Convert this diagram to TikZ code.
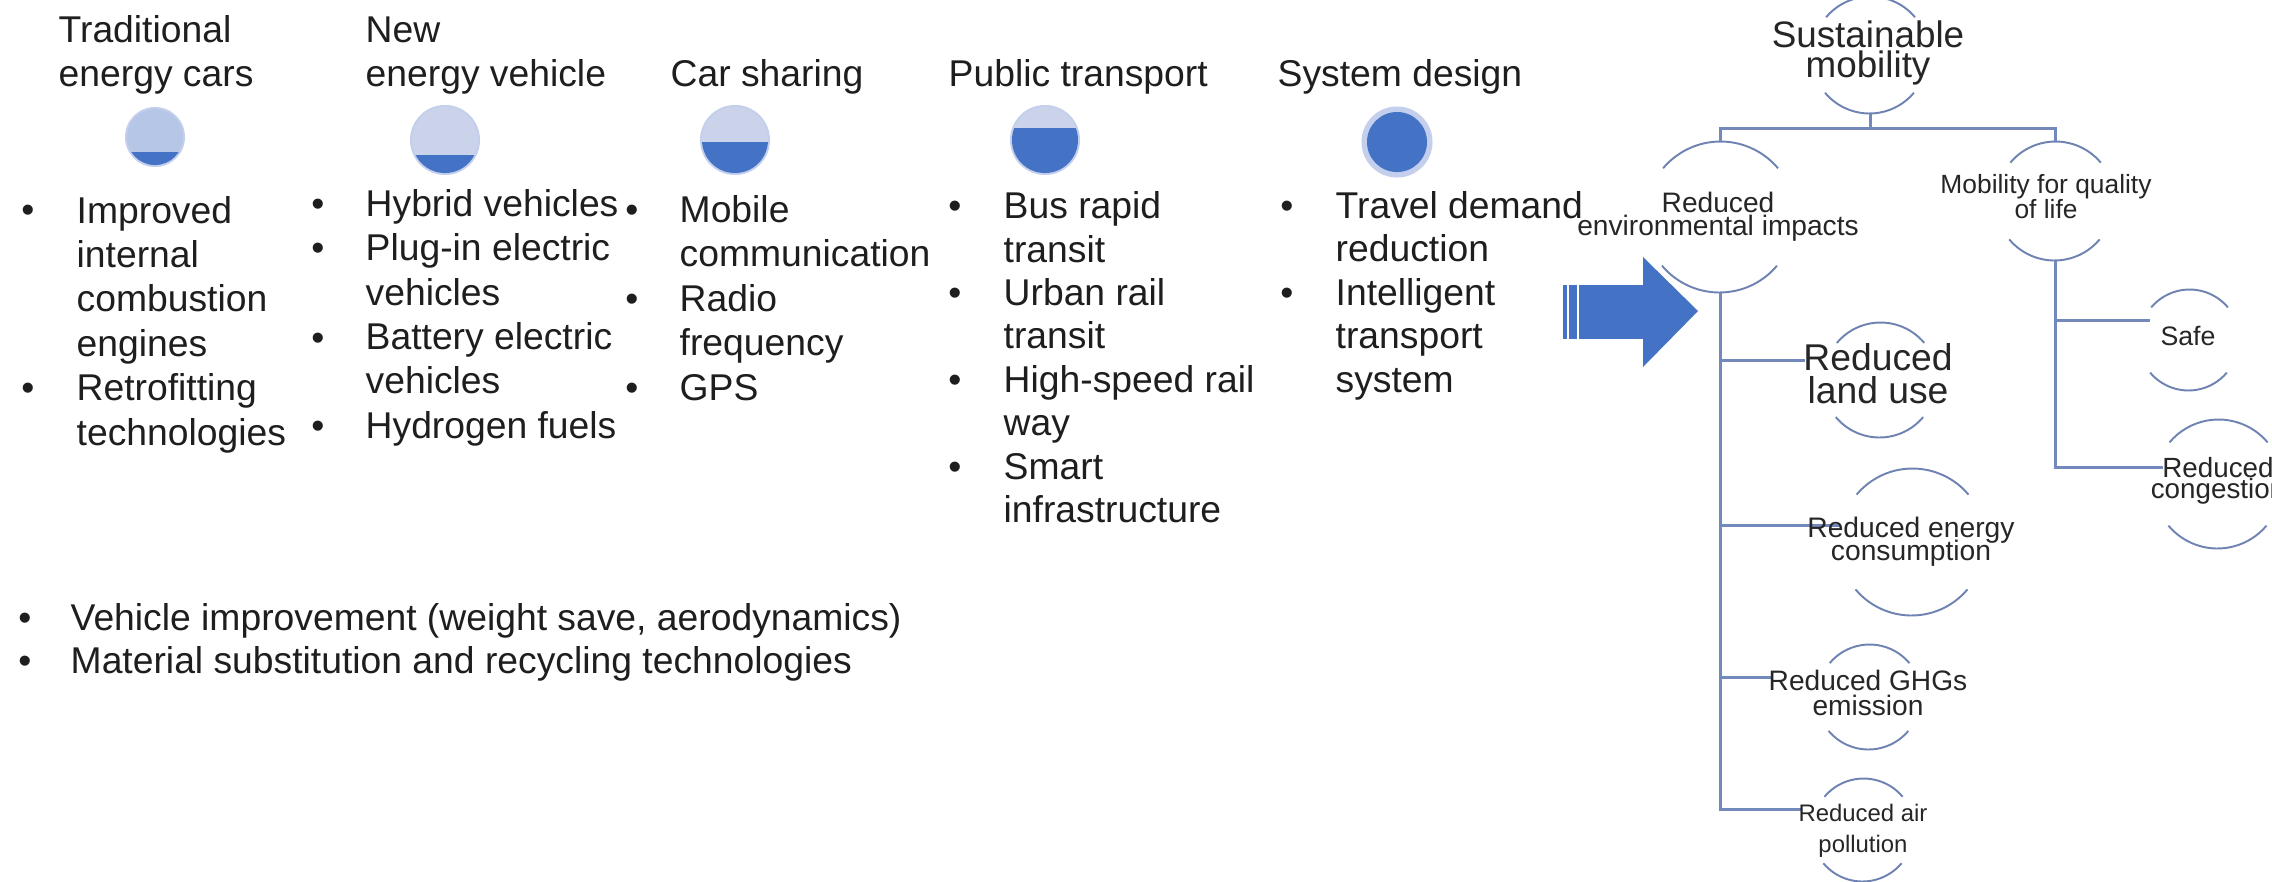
\documentclass[tikz,border=0pt]{standalone}
\usepackage{fontspec}
\setmainfont{Liberation Sans}
\usetikzlibrary{calc}
\setlength{\lineskiplimit}{-50pt}
\definecolor{ink}{HTML}{1E1E1E}
\definecolor{accent}{HTML}{4472C4}
\definecolor{rimc}{HTML}{C3CFEC}
\definecolor{palec}{HTML}{CBD3EA}
\definecolor{pale1}{HTML}{B6C6E7}
\definecolor{linec}{HTML}{7489BB}
\definecolor{arcc}{HTML}{6F83B3}
\newcommand{\drawcaps}[2]{%
  \draw[arcstroke] (#1.40) arc[start angle=40,end angle=140,radius=#2];
  \draw[arcstroke] (#1.220) arc[start angle=220,end angle=320,radius=#2];}
\tikzset{
  txt/.style={inner sep=0pt, text=ink, align=left, font=\fontsize{10.6}{12.62}\selectfont},
  head/.style={txt, anchor=base west, font=\fontsize{10.6}{12.48}\selectfont},
  lst/.style={txt, anchor=base west},
  bul/.style={inner sep=0pt, text=ink, anchor=base, font=\fontsize{10.6}{12}\selectfont},
  ball/.style={circle, inner sep=0pt, draw=none},
  hub/.style={circle, inner sep=0pt, draw=none},
  lbl/.style={inner sep=0pt, text=black!85, align=center, anchor=base},
  conn/.style={draw=linec, line width=0.85pt},
  arcstroke/.style={draw=arcc, line width=0.55pt},
}
\begin{document}
\begin{tikzpicture}[x=0.01cm, y=-0.01cm]
\useasboundingbox (0,0) rectangle (2272,881);
\fill[white] (0,0) rectangle (2272,881);

% ---------- headers (anchored at last baseline) ----------
\node[head] (h1) at (58,86) {Traditional\\energy cars};
\node[head] (h2) at (365,86) {New\\energy vehicle};
\node[head] (h3) at (670,86) {Car sharing};
\node[head] (h4) at (948,86) {Public transport};
\node[head] (h5) at (1277,86) {System design};

% ---------- Harvey balls ----------
\node[ball, minimum size=0.60cm] (b1) at (155,137) {};
\node[ball, minimum size=0.70cm] (b2) at (445,140) {};
\node[ball, minimum size=0.70cm] (b3) at (735,140) {};
\node[ball, minimum size=0.70cm] (b4) at (1045,140) {};
\node[ball, minimum size=0.71cm] (b5) at (1397,142) {};

\fill[rimc] (b1) circle (0.30cm);
\fill[pale1] (b1) circle (0.28cm);
\begin{scope}
  \clip (b1) circle (0.28cm);
  \fill[accent] ($(b1)+(-40,15)$) rectangle ($(b1)+(40,40)$);
\end{scope}

\fill[rimc] (b2) circle (0.35cm);
\fill[palec] (b2) circle (0.33cm);
\begin{scope}
  \clip (b2) circle (0.33cm);
  \fill[accent] ($(b2)+(-40,15)$) rectangle ($(b2)+(40,40)$);
\end{scope}

\fill[rimc] (b3) circle (0.35cm);
\fill[palec] (b3) circle (0.33cm);
\begin{scope}
  \clip (b3) circle (0.33cm);
  \fill[accent] ($(b3)+(-40,2)$) rectangle ($(b3)+(40,40)$);
\end{scope}

\fill[rimc] (b4) circle (0.35cm);
\fill[palec] (b4) circle (0.33cm);
\begin{scope}
  \clip (b4) circle (0.33cm);
  \fill[accent] ($(b4)+(-40,-12)$) rectangle ($(b4)+(40,40)$);
\end{scope}

\fill[rimc] (b5) circle (0.355cm);
\fill[accent] (b5) circle (0.30cm);

% ---------- lists (anchored at last baseline) ----------
\node[lst] (l1) at (76,445) {Improved\\internal\\combustion\\engines\\Retrofitting\\technologies};
\node[bul] (d11) at (28,222) {•};
\node[bul] (d12) at (28,400) {•};

\node[lst, font=\fontsize{10.6}{12.59}\selectfont] (l2) at (365,438) {Hybrid vehicles\\Plug-in electric\\vehicles\\Battery electric\\vehicles\\Hydrogen fuels};
\node[bul] (d21) at (318,216) {•};
\node[bul] (d22) at (318,260) {•};
\node[bul] (d23) at (318,350) {•};
\node[bul] (d24) at (318,438) {•};

\node[lst] (l3) at (679,400) {Mobile\\communication\\Radio\\frequency\\GPS};
\node[bul] (d31) at (632,222) {•};
\node[bul] (d32) at (632,311) {•};
\node[bul] (d33) at (632,400) {•};

\node[lst, font=\fontsize{10.6}{12.34}\selectfont] (l4) at (1003,522.5) {Bus rapid\\transit\\Urban rail\\transit\\High-speed rail\\way\\Smart\\infrastructure};
\node[bul] (d41) at (955,218) {•};
\node[bul] (d42) at (955,305) {•};
\node[bul] (d43) at (955,392) {•};
\node[bul] (d44) at (955,479) {•};

\node[lst, font=\fontsize{10.6}{12.34}\selectfont] (l5) at (1335,392) {Travel demand\\reduction\\Intelligent\\transport\\system};
\node[bul] (d51) at (1287,218) {•};
\node[bul] (d52) at (1287,305) {•};

\node[lst, font=\fontsize{10.6}{12.2}\selectfont] (l6) at (70,673) {Vehicle improvement (weight save, aerodynamics)\\Material substitution and recycling technologies};
\node[bul] (d61) at (25,630) {•};
\node[bul] (d62) at (25,673) {•};

% ---------- arrow ----------
\fill[accent] (1563,285) rectangle (1567,339);
\fill[accent] (1569,285) rectangle (1577,339);
\fill[accent] (1579,285) rectangle (1644,339);
\fill[accent] (1643,257) -- (1698,311) -- (1643,367) -- cycle;

% ---------- tree hubs ----------
\node[hub, minimum size=1.16cm] (sm) at (1870,55) {};
\node[hub, minimum size=1.50cm] (env) at (1720,217) {};
\node[hub, minimum size=1.18cm] (mql) at (2055,201) {};
\node[hub, minimum size=1.00cm] (safe) at (2189,340) {};
\node[hub, minimum size=1.28cm] (cong) at (2218,484) {};
\node[hub, minimum size=1.14cm] (land) at (1880,380) {};
\node[hub, minimum size=1.46cm] (energy) at (1912,542) {};
\node[hub, minimum size=1.04cm] (ghg) at (1869,697) {};
\node[hub, minimum size=1.02cm] (air) at (1863,830) {};

\drawcaps{sm}{0.58cm}
\drawcaps{env}{0.75cm}
\drawcaps{mql}{0.59cm}
\drawcaps{safe}{0.50cm}
\drawcaps{cong}{0.64cm}
\drawcaps{land}{0.57cm}
\drawcaps{energy}{0.73cm}
\drawcaps{ghg}{0.52cm}
\drawcaps{air}{0.51cm}

% ---------- connectors ----------
\coordinate (landIn) at (1805,360);
\coordinate (energyIn) at (1840,525);
\coordinate (ghgIn) at (1772,677);
\coordinate (airIn) at (1802,809);
\coordinate (safeIn) at (2150,320);
\coordinate (congIn) at (2163,467);

\draw[conn] (sm.south) -- ++(0,15) -| (env.north);
\draw[conn] (sm.south) -- ++(0,15) -| (mql.north);
\draw[conn] (env.south) |- (landIn);
\draw[conn] (env.south) |- (energyIn);
\draw[conn] (env.south) |- (ghgIn);
\draw[conn] (env.south) |- (airIn);
\draw[conn] (mql.south) |- (safeIn);
\draw[conn] (mql.south) |- (congIn);

% ---------- tree labels (anchored at last baseline) ----------
\node[lbl, font=\fontsize{10.47}{8.51}\selectfont] (smT) at (1868,77) {Sustainable\\mobility};
\node[lbl, font=\fontsize{8.0}{6.52}\selectfont] (envT) at (1718,235) {Reduced\\environmental impacts};
\node[lbl, font=\fontsize{7.5}{7.0}\selectfont] (mqlT) at (2046,218) {Mobility for quality\\of life};
\node[lbl, font=\fontsize{7.6}{7}\selectfont] (safeT) at (2188,345) {Safe};
\node[lbl, font=\fontsize{7.9}{5.96}\selectfont] (congT) at (2218,498) {Reduced\\congestion};
\node[lbl, font=\fontsize{10.6}{9.36}\selectfont] (landT) at (1878,403) {Reduced\\land use};
\node[lbl, font=\fontsize{8.03}{6.52}\selectfont] (energyT) at (1911,560) {Reduced energy\\consumption};
\node[lbl, font=\fontsize{8.0}{7.09}\selectfont] (ghgT) at (1868,715) {Reduced GHGs\\emission};
\node[lbl, font=\fontsize{6.8}{8.79}\selectfont] (airT) at (1863,852) {Reduced air\\pollution};
\end{tikzpicture}
\end{document}
